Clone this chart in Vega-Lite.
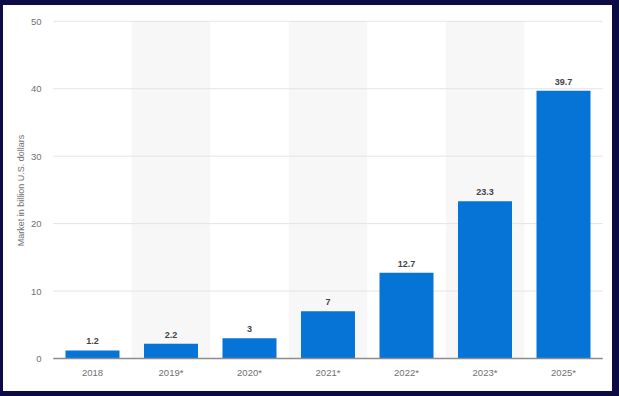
{
  "$schema": "https://vega.github.io/schema/vega-lite/v6.json",
  "width": 609,
  "height": 386,
  "autosize": {"type": "none"},
  "padding": {"left": 3, "top": 5, "right": 7, "bottom": 5},
  "background": "#0c0b45",
  "config": {
    "view": {"fill": "white", "stroke": null},
    "font": "Liberation Sans"
  },
  "datasets": {
    "market": [
      {"year": "2018", "value": 1.2},
      {"year": "2019*", "value": 2.2},
      {"year": "2020*", "value": 3},
      {"year": "2021*", "value": 7},
      {"year": "2022*", "value": 12.7},
      {"year": "2023*", "value": 23.3},
      {"year": "2025*", "value": 39.7}
    ],
    "grid": [{"v": 10}, {"v": 20}, {"v": 30}, {"v": 40}, {"v": 50}],
    "zero": [{"v": 0}]
  },
  "layer": [
    {
      "data": {"name": "market"},
      "transform": [{"filter": {"field": "year", "oneOf": ["2019*", "2021*", "2023*"]}}],
      "mark": {"type": "rect", "fill": "#f7f7f7"},
      "encoding": {
        "x": {
          "field": "year", "type": "nominal", "bandPosition": -0.227,
          "scale": {
            "domain": ["2018", "2019*", "2020*", "2021*", "2022*", "2023*", "2025*"],
            "paddingInner": 0.312, "paddingOuter": 0.535, "align": 0.744, "round": false
          },
          "axis": {
            "title": null, "orient": "bottom", "offset": -32.5, "domain": false, "ticks": false,
            "labelPadding": 9, "labelFontSize": 9.5, "labelColor": "#707070", "labelAngle": 0, "grid": false
          }
        },
        "x2": {"field": "year", "bandPosition": 1.227},
        "y": {
          "datum": 50, "type": "quantitative",
          "scale": {"domain": [-4.82, 52.42], "nice": false, "zero": false},
          "axis": {
            "title": "Market in billion U.S. dollars", "orient": "left", "offset": -50,
            "values": [0, 10, 20, 30, 40, 50], "domain": false, "ticks": false, "grid": false,
            "labelPadding": 12, "labelFontSize": 9.5, "labelColor": "#707070",
            "titleFontSize": 9, "titleFontWeight": "normal", "titleColor": "#707070",
            "titleX": -33, "titleY": 185, "titleBaseline": "middle", "titleAngle": -90, "titleAlign": "center"
          }
        },
        "y2": {"datum": 0}
      }
    },
    {
      "data": {"name": "grid"},
      "mark": {"type": "rule", "color": "#e4e4e4", "strokeWidth": 1},
      "encoding": {
        "x": {"datum": "2018", "type": "nominal", "bandPosition": -0.227},
        "x2": {"datum": "2025*", "bandPosition": 1.227},
        "y": {"field": "v", "type": "quantitative"}
      }
    },
    {
      "data": {"name": "market"},
      "mark": {"type": "bar", "color": "#0574d6"},
      "encoding": {
        "x": {"field": "year", "type": "nominal"},
        "y": {"field": "value", "type": "quantitative"}
      }
    },
    {
      "data": {"name": "zero"},
      "mark": {"type": "rule", "color": "#8c8c8c", "strokeWidth": 1.5},
      "encoding": {
        "x": {"datum": "2018", "type": "nominal", "bandPosition": -0.227},
        "x2": {"datum": "2025*", "bandPosition": 1.227},
        "y": {"field": "v", "type": "quantitative"}
      }
    },
    {
      "data": {"name": "market"},
      "mark": {"type": "text", "baseline": "bottom", "dy": -4, "fontSize": 9, "fontWeight": "bold", "color": "#444444"},
      "encoding": {
        "x": {"field": "year", "type": "nominal"},
        "y": {"field": "value", "type": "quantitative"},
        "text": {"field": "value", "type": "quantitative"}
      }
    }
  ]
}
